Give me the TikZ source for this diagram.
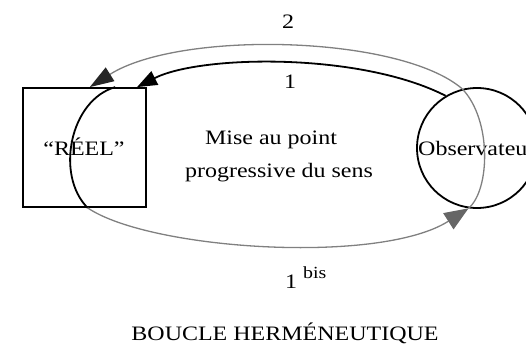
\documentclass[tikz,border=0pt]{standalone}
\usepackage{fontspec}
\setmainfont{Liberation Serif}[FakeStretch=1.17]
\usetikzlibrary{arrows.meta}
\begin{document}
\begin{tikzpicture}[x=1pt,y=-1pt,
  txt/.style={inner sep=0pt,font=\fontsize{20.5}{24}\selectfont},
  blackline/.style={line width=1.8pt,black},
  grayline/.style={line width=1.3pt,black!50},
  tipblack/.style={-{Triangle[length=20pt,width=15pt]}},
  tipdark/.style={-{Triangle[length=24pt,width=16pt,color=black!85]}},
  tipgray/.style={-{Triangle[length=24pt,width=19pt,color=black!60]}}]
\useasboundingbox (0,0) rectangle (526,351);
\clip (0,0) rectangle (526,351);
\node[draw,line width=1.8pt,minimum width=123pt,minimum height=119pt,inner sep=0pt] (reel) at (84.5,147.5) {};
\node[draw,circle,line width=1.8pt,minimum size=120pt,inner sep=0pt] (obs) at (477,148) {};
\node[txt,anchor=base] (lreel) at (84,155) {“RÉEL”};
\node[txt,anchor=base west] (lobs) at (418,155) {Observateur};
\node[txt,anchor=base] (mise) at (271,144) {Mise au point};
\node[txt,anchor=base] (prog) at (279,177) {progressive du sens};
\node[txt,anchor=base] (ltwo) at (288,28) {2};
\node[txt,anchor=base] (lone) at (290,88) {1};
\node[txt,anchor=base west] (lbis) at (285,288) {1\hspace{6pt}\raisebox{10pt}{\fontsize{17}{18}\selectfont bis}};
\node[txt,anchor=base] (title) at (285,340) {BOUCLE HERMÉNEUTIQUE};
% arc 1 (black) from observer to real
\draw[blackline,tipblack] (obs.121) .. controls (360,52) and (200,55) .. (reel.49);
% black curve inside the square
\draw[blackline] (reel.63) .. controls (70,100) and (55,175) .. (reel.273);
% 1 bis (gray) from real to observer
\draw[grayline,tipgray] (reel.273) .. controls (150,250) and (380,265) .. (obs.262);
% gray inside circle
\draw[grayline] (obs.262) .. controls (490,190) and (492,120) .. (obs.104);
% arc 2 (gray) from observer to real
\draw[grayline,tipdark] (obs.104) .. controls (400,35) and (180,30) .. (reel.85);
\end{tikzpicture}
\end{document}
